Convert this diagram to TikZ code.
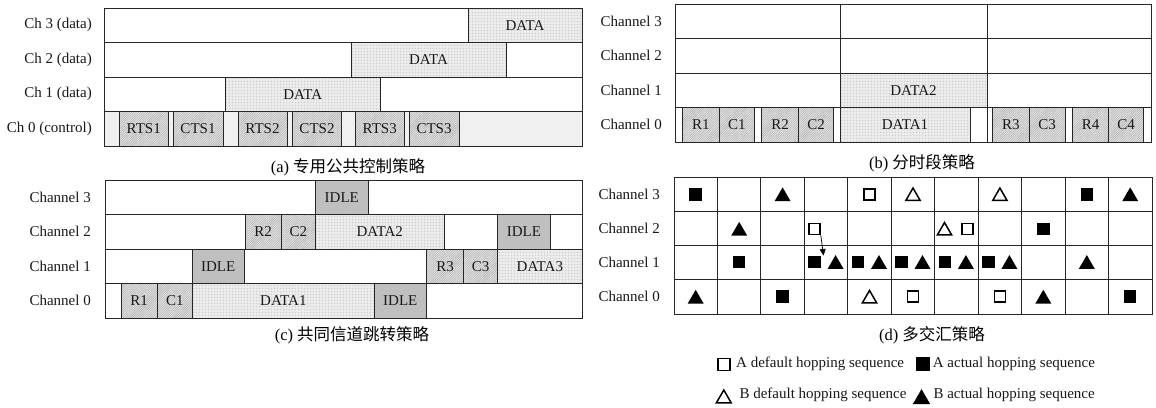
\documentclass[tikz,border=0pt]{standalone}
\usepackage{fontspec}
\setmainfont{Liberation Serif}
\newfontfamily\cjk{Noto Sans CJK SC}
\usetikzlibrary{patterns.meta,shapes.geometric,arrows.meta}
\newcommand\bx[5]{\path[#1] (#2,#3) rectangle (#4,#5);}
\newcommand\blk[7]{\path[#1] (#3,#4) rectangle (#5,#6);
  \node[txt] (#2) at ({(#3+#5)/2},{(#4+#6)/2}) {#7};}
\begin{document}
\begin{tikzpicture}[x=1pt,y=-1pt,
  lc/.style={draw=black!85,line width=0.9pt},
  wbox/.style={lc,fill=white},
  gbox/.style={lc,fill=black!6},
  hbox/.style={lc,preaction={fill=black!12},pattern={Lines[angle=45,distance=1.6pt,line width=0.4pt]},pattern color=black!32},
  dbox/.style={lc,preaction={fill=black!5},pattern={Dots[distance=1.5pt,radius=0.3pt]},pattern color=black!25},
  ibox/.style={lc,fill=black!25},
  txt/.style={font=\fontsize{15}{18}\selectfont,inner sep=0pt,text=black!90},
  lab/.style={txt,anchor=east},
  captxt/.style={font=\fontsize{16.5}{19}\selectfont,inner sep=0pt},
  fsq/.style={rectangle,fill=black,minimum size=12.5pt,inner sep=0pt},
  osq/.style={rectangle,draw=black,line width=1.5pt,fill=white,minimum size=11pt,inner sep=0pt},
  ftri/.style={regular polygon,regular polygon sides=3,fill=black,minimum size=18.5pt,inner sep=0pt,yshift=-2.3pt},
  otri/.style={regular polygon,regular polygon sides=3,draw=black,line width=1.5pt,fill=white,minimum size=16.5pt,inner sep=0pt,yshift=-2pt},
]
\useasboundingbox (0,0) rectangle (1156,407);
\fill[white] (0,0) rectangle (1156,407);

% ---------------- (a)
\bx{wbox}{104}{8}{468}{42.5}
\blk{dbox}{a3d}{468}{8}{582}{42.5}{DATA}
\bx{wbox}{104}{42.5}{351}{77}
\blk{dbox}{a2d}{351}{42.5}{506}{77}{DATA}
\bx{wbox}{506}{42.5}{582}{77}
\bx{wbox}{104}{77}{225}{111.5}
\blk{dbox}{a1d}{225}{77}{380.5}{111.5}{DATA}
\bx{wbox}{380.5}{77}{582}{111.5}
\bx{gbox}{104}{111.5}{582}{146}
\blk{hbox}{rts1}{119}{111.5}{168.5}{146}{RTS1}
\blk{hbox}{cts1}{173}{111.5}{223}{146}{CTS1}
\blk{hbox}{rts2}{238}{111.5}{287}{146}{RTS2}
\blk{hbox}{cts2}{292.5}{111.5}{341.5}{146}{CTS2}
\blk{hbox}{rts3}{355}{111.5}{404.5}{146}{RTS3}
\blk{hbox}{cts3}{409}{111.5}{459}{146}{CTS3}
\node[lab] (la3) at (92,25.25) {Ch 3 (data)};
\node[lab] (la2) at (92,59.75) {Ch 2 (data)};
\node[lab] (la1) at (92,94.25) {Ch 1 (data)};
\node[lab] (la0) at (92,128.75) {Ch 0 (control)};
\node[captxt] (capa) at (348,167) {(a) {\cjk 专用公共控制策略}};

% ---------------- (b)
\foreach \ya/\yb in {4/38.5,38.5/73,73/107.5,107.5/142}{
  \bx{wbox}{675}{\ya}{840}{\yb}
  \bx{wbox}{840}{\ya}{987}{\yb}
  \bx{wbox}{987}{\ya}{1151}{\yb}
}
\blk{dbox}{bd2}{840}{73}{987}{107.5}{DATA2}
\blk{hbox}{br1}{682}{107.5}{719.5}{142}{R1}
\blk{hbox}{bc1}{719.5}{107.5}{754}{142}{C1}
\blk{hbox}{br2}{761.5}{107.5}{798.5}{142}{R2}
\blk{hbox}{bc2}{798.5}{107.5}{833.5}{142}{C2}
\blk{dbox}{bd1}{840}{107.5}{970}{142}{DATA1}
\blk{hbox}{br3}{992.5}{107.5}{1029}{142}{R3}
\blk{hbox}{bc3}{1029}{107.5}{1065}{142}{C3}
\blk{hbox}{br4}{1072.5}{107.5}{1108.5}{142}{R4}
\blk{hbox}{bc4}{1108.5}{107.5}{1143.5}{142}{C4}
\node[lab] (lb3) at (662,21.25) {Channel 3};
\node[lab] (lb2) at (662,55.75) {Channel 2};
\node[lab] (lb1) at (662,90.25) {Channel 1};
\node[lab] (lb0) at (662,124.75) {Channel 0};
\node[captxt] (capb) at (922,163.5) {(b) {\cjk 分时段策略}};

% ---------------- (c)
\bx{wbox}{105}{180}{315.5}{214.5}
\blk{ibox}{ci3}{315.5}{180}{368}{214.5}{IDLE}
\bx{wbox}{368}{180}{582}{214.5}
\bx{wbox}{105}{214.5}{245}{249}
\blk{hbox}{cr2}{245}{214.5}{281}{249}{R2}
\blk{hbox}{cc2}{281}{214.5}{315.5}{249}{C2}
\blk{dbox}{cd2}{315.5}{214.5}{444}{249}{DATA2}
\bx{wbox}{444}{214.5}{497.7}{249}
\blk{ibox}{ci2}{497.7}{214.5}{550}{249}{IDLE}
\bx{wbox}{550}{214.5}{582}{249}
\bx{wbox}{105}{249}{192.3}{283.5}
\blk{ibox}{ci1}{192.3}{249}{244}{283.5}{IDLE}
\bx{wbox}{244}{249}{426.7}{283.5}
\blk{hbox}{cr3}{426.7}{249}{463.3}{283.5}{R3}
\blk{hbox}{cc3}{463.3}{249}{497.7}{283.5}{C3}
\blk{dbox}{cd3}{497.7}{249}{582}{283.5}{DATA3}
\bx{wbox}{105}{283.5}{121}{318}
\blk{hbox}{cr1}{121}{283.5}{157.2}{318}{R1}
\blk{hbox}{cc1}{157.2}{283.5}{192.3}{318}{C1}
\blk{dbox}{cd1}{192.3}{283.5}{374.4}{318}{DATA1}
\blk{ibox}{ci0}{374.4}{283.5}{426.2}{318}{IDLE}
\bx{wbox}{426.2}{283.5}{582}{318}
\node[lab] (lc3) at (91,197.25) {Channel 3};
\node[lab] (lc2) at (91,231.75) {Channel 2};
\node[lab] (lc1) at (91,266.25) {Channel 1};
\node[lab] (lc0) at (91,300.75) {Channel 0};
\node[captxt] (capc) at (352,335) {(c) {\cjk 共同信道跳转策略}};

% ---------------- (d)
\path[wbox] (674,177) rectangle (1152,314);
\foreach \yy in {211,245.5,279.5}{\draw[lc] (674,\yy) -- (1152,\yy);}
\foreach \i in {1,...,10}{\draw[lc] ({674+43.4545*\i},177) -- ({674+43.4545*\i},314);}
\node[lab] (ld3) at (660,194) {Channel 3};
\node[lab] (ld2) at (660,228.25) {Channel 2};
\node[lab] (ld1) at (660,262.5) {Channel 1};
\node[lab] (ld0) at (660,296.75) {Channel 0};
% channel 3
\node[fsq] (m31) at (695.7,194.3) {};
\node[ftri] (m33) at (782.6,194.3) {};
\node[osq] (m35) at (869.5,194.3) {};
\node[otri] (m36) at (913.0,194.3) {};
\node[otri] (m38) at (999.9,194.3) {};
\node[fsq] (m310) at (1086.8,194.3) {};
\node[ftri] (m311) at (1130.2,194.3) {};
% channel 2
\node[ftri] (m22) at (739.2,228.8) {};
\node[osq] (m24) at (814.5,228.8) {};
\node[otri] (m27a) at (944.5,228.8) {};
\node[osq] (m27b) at (967.5,228.8) {};
\node[fsq] (m29) at (1043.3,228.8) {};
% channel 1
\node[fsq] (m12) at (739.2,262) {};
\foreach \c [count=\k from 4] in {826.1,869.5,913.0,956.4,999.9}{
  \node[fsq] (m1\k a) at (\c-11.5,262) {};
  \node[ftri] (m1\k b) at (\c+9.5,262) {};
}
\node[ftri] (m110) at (1086.8,262) {};
% channel 0
\node[ftri] (m01) at (695.7,296.7) {};
\node[fsq] (m03) at (782.6,296.7) {};
\node[otri] (m05) at (869.5,296.7) {};
\node[osq] (m06) at (913.0,296.7) {};
\node[osq] (m08) at (999.9,296.7) {};
\node[ftri] (m09) at (1043.3,296.7) {};
\node[fsq] (m011) at (1130.2,296.7) {};
\draw[line width=0.7pt,-{Triangle[length=6.5pt,width=6pt]}] (m24.south east) -- ([xshift=2.5pt]m14a.north east);
\node[captxt] (capd) at (932,335) {(d) {\cjk 多交汇策略}};

% ---------------- legend
\node[osq,minimum size=12pt] (lg1) at (723.8,364.3) {};
\node[txt,anchor=west] (lg1t) at (736,364.3) {A default hopping sequence};
\node[fsq,minimum size=14pt] (lg2) at (922.5,364.3) {};
\node[txt,anchor=west] (lg2t) at (932.7,364.3) {A actual hopping sequence};
\node[otri,minimum size=17pt] (lg3) at (723.8,396.5) {};
\node[txt,anchor=west] (lg3t) at (739.3,395) {B default hopping sequence};
\node[ftri,minimum size=20pt] (lg4) at (921.5,396.8) {};
\node[txt,anchor=west] (lg4t) at (933.3,395) {B actual hopping sequence};
\end{tikzpicture}
\end{document}
